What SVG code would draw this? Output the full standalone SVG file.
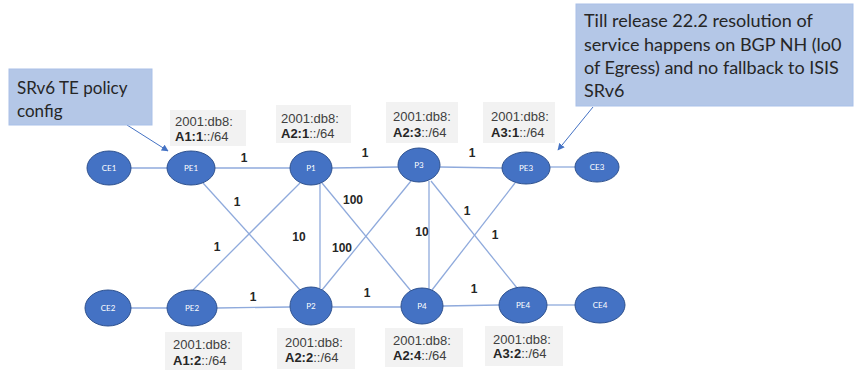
<svg xmlns="http://www.w3.org/2000/svg" width="857" height="371" viewBox="0 0 857 371">
  <style>
    .link { stroke: #8FAADC; stroke-width: 1.3; fill: none; }
    .node ellipse { fill: #4472C4; stroke: #2F528F; stroke-width: 1; }
    .node text { fill: #ffffff; font-family: Lato, "Liberation Sans", sans-serif; font-size: 8px; text-anchor: middle; }
    .cost { fill: #262626; font-family: "Liberation Sans", Arial, sans-serif; font-size: 12px; font-weight: bold; text-anchor: middle; }
    .addr rect { fill: #F2F2F2; }
    .addr text { fill: #404040; font-family: "Liberation Sans", Arial, sans-serif; font-size: 13px; }
    .addr tspan.b { font-weight: bold; fill: #262626; }
    .note rect { fill: #B4C7E7; stroke: #A9C0E8; stroke-width: 1; }
    .note text { fill: #262626; font-family: Lato, "Liberation Sans", sans-serif; font-size: 18px; }
    .pointer { stroke: #4472C4; stroke-width: 1; fill: none; marker-end: url(#arrow); }
  </style>
  <defs>
    <marker id="arrow" viewBox="0 0 10 10" refX="9" refY="5" markerWidth="7" markerHeight="7" orient="auto" markerUnits="userSpaceOnUse">
      <path d="M0,0 L10,5 L0,10 z" fill="#4472C4"/>
    </marker>
  </defs>
  <rect width="857" height="371" fill="#ffffff"/>

  <!-- links between routers -->
  <g id="connectors">
    <line class="link" x1="131" y1="168" x2="167" y2="168"/>
    <line class="link" x1="215" y1="168" x2="290" y2="168"/>
    <line class="link" x1="332" y1="168" x2="398" y2="167"/>
    <line class="link" x1="440" y1="167" x2="502" y2="168"/>
    <line class="link" x1="550" y1="167" x2="575" y2="167"/>
    <line class="link" x1="131" y1="308" x2="167" y2="308"/>
    <line class="link" x1="217" y1="308" x2="290" y2="307"/>
    <line class="link" x1="332" y1="307" x2="401" y2="307"/>
    <line class="link" x1="443" y1="306" x2="499" y2="305"/>
    <line class="link" x1="547" y1="305" x2="575" y2="305"/>
    <line class="link" x1="203" y1="183" x2="300" y2="290"/>
    <line class="link" x1="193" y1="290" x2="300" y2="183"/>
    <line class="link" x1="320" y1="184" x2="320" y2="288"/>
    <line class="link" x1="322" y1="183" x2="411" y2="291"/>
    <line class="link" x1="322" y1="290" x2="411" y2="181"/>
    <line class="link" x1="429" y1="181" x2="429" y2="289"/>
    <line class="link" x1="431" y1="181" x2="517" y2="288"/>
    <line class="link" x1="432" y1="290" x2="515" y2="183"/>
    <line class="pointer" x1="127" y1="125" x2="168" y2="151"/>
    <line class="pointer" x1="593" y1="107" x2="558" y2="150"/>
  </g>

  <!-- link metrics -->
  <g id="costs">
    <text class="cost" x="244" y="162">1</text>
    <text class="cost" x="365" y="157">1</text>
    <text class="cost" x="472" y="157">1</text>
    <text class="cost" x="237" y="206">1</text>
    <text class="cost" x="217" y="251">1</text>
    <text class="cost" x="299" y="241">10</text>
    <text class="cost" x="342" y="252">100</text>
    <text class="cost" x="353" y="204">100</text>
    <text class="cost" x="422" y="236">10</text>
    <text class="cost" x="467" y="215">1</text>
    <text class="cost" x="495" y="239">1</text>
    <text class="cost" x="253" y="301">1</text>
    <text class="cost" x="367" y="297">1</text>
    <text class="cost" x="474" y="293">1</text>
  </g>

  <!-- routers -->
  <g id="CE1" class="node"><ellipse cx="109" cy="168" rx="22" ry="17"/><text x="109" y="171">CE1</text></g>
  <g id="PE1" class="node"><ellipse cx="191" cy="168" rx="24" ry="17"/><text x="191" y="171">PE1</text></g>
  <g id="P1" class="node"><ellipse cx="311" cy="168" rx="21" ry="17"/><text x="311" y="171">P1</text></g>
  <g id="P3" class="node"><ellipse cx="419" cy="165" rx="21" ry="17"/><text x="419" y="168">P3</text></g>
  <g id="PE3" class="node"><ellipse cx="526" cy="168" rx="24" ry="16"/><text x="526" y="171">PE3</text></g>
  <g id="CE3" class="node"><ellipse cx="597" cy="167" rx="22" ry="15"/><text x="597" y="170">CE3</text></g>
  <g id="CE2" class="node"><ellipse cx="108" cy="308" rx="23" ry="18"/><text x="108" y="311">CE2</text></g>
  <g id="PE2" class="node"><ellipse cx="192" cy="308" rx="25" ry="18"/><text x="192" y="311">PE2</text></g>
  <g id="P2" class="node"><ellipse cx="311" cy="306" rx="21" ry="19"/><text x="311" y="309">P2</text></g>
  <g id="P4" class="node"><ellipse cx="422" cy="306" rx="21" ry="18"/><text x="422" y="309">P4</text></g>
  <g id="PE4" class="node"><ellipse cx="523" cy="305" rx="24" ry="18"/><text x="523" y="308">PE4</text></g>
  <g id="CE4" class="node"><ellipse cx="600" cy="305" rx="25" ry="18"/><text x="600" y="308">CE4</text></g>

  <!-- locator prefixes -->
  <g id="addr-PE1" class="addr"><rect x="170" y="110" width="76" height="36"/>
    <text x="175" y="126">2001:db8:</text><text x="175" y="141"><tspan class="b">A1:1</tspan>::/64</text></g>
  <g id="addr-P1" class="addr"><rect x="276" y="105" width="75" height="38"/>
    <text x="281" y="123">2001:db8:</text><text x="281" y="138"><tspan class="b">A2:1</tspan>::/64</text></g>
  <g id="addr-P3" class="addr"><rect x="386" y="102" width="72" height="41"/>
    <text x="393" y="121">2001:db8:</text><text x="393" y="137"><tspan class="b">A2:3</tspan>::/64</text></g>
  <g id="addr-PE3" class="addr"><rect x="483" y="102" width="72" height="41"/>
    <text x="491" y="121">2001:db8:</text><text x="491" y="137"><tspan class="b">A3:1</tspan>::/64</text></g>
  <g id="addr-PE2" class="addr"><rect x="165" y="332" width="77" height="38"/>
    <text x="173" y="349">2001:db8:</text><text x="173" y="365"><tspan class="b">A1:2</tspan>::/64</text></g>
  <g id="addr-P2" class="addr"><rect x="277" y="328" width="78" height="41"/>
    <text x="285" y="347">2001:db8:</text><text x="285" y="362"><tspan class="b">A2:2</tspan>::/64</text></g>
  <g id="addr-P4" class="addr"><rect x="385" y="328" width="78" height="39"/>
    <text x="393" y="345">2001:db8:</text><text x="393" y="360"><tspan class="b">A2:4</tspan>::/64</text></g>
  <g id="addr-PE4" class="addr"><rect x="485" y="326" width="78" height="40"/>
    <text x="493" y="344">2001:db8:</text><text x="493" y="358"><tspan class="b">A3:2</tspan>::/64</text></g>

  <!-- notes -->
  <g id="note-policy" class="note"><rect x="9" y="69" width="143" height="56"/>
    <text x="17" y="94" style="font-size:17px">SRv6 TE policy</text><text x="17" y="117" style="font-size:17px">config</text></g>
  <g id="note-resolution" class="note"><rect x="576" y="4" width="277" height="102"/>
    <text x="584" y="27">Till release 22.2 resolution of</text>
    <text x="584" y="51">service happens on BGP NH (lo0</text>
    <text x="584" y="74">of Egress) and no fallback to ISIS</text>
    <text x="584" y="97">SRv6</text></g>
</svg>
